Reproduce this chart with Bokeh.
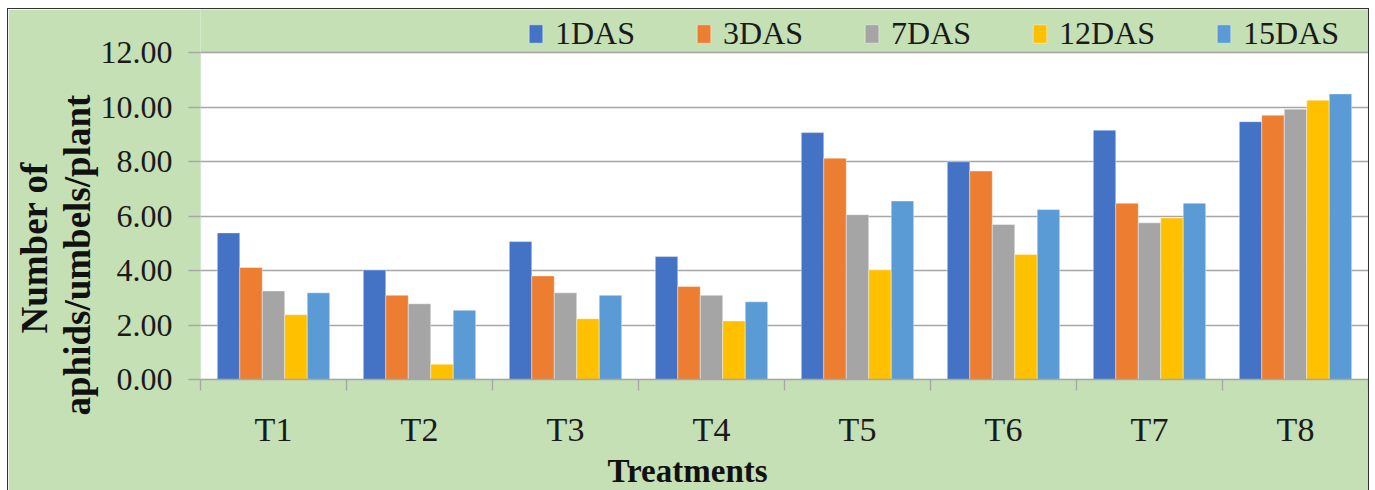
from bokeh.plotting import figure
from bokeh.models import (ColumnDataSource, Range1d, FixedTicker, NumeralTickFormatter,
                          Legend, LegendItem, Title, BoxAnnotation)
from bokeh.transform import dodge
from bokeh.embed import file_html
from bokeh.resources import INLINE

# ---------------- data ----------------
treatments = ["T1", "T2", "T3", "T4", "T5", "T6", "T7", "T8"]
series_names = ["1DAS", "3DAS", "7DAS", "12DAS", "15DAS"]
das1 = [5.38, 4.02, 5.06, 4.51, 9.06, 7.99, 9.15, 9.46]
das3 = [4.11, 3.09, 3.80, 3.41, 8.12, 7.65, 6.47, 9.70]
das7 = [3.25, 2.78, 3.18, 3.09, 6.05, 5.69, 5.75, 9.92]
das12 = [2.38, 0.56, 2.23, 2.15, 4.02, 4.59, 5.93, 10.25]
das15 = [3.18, 2.54, 3.09, 2.85, 6.55, 6.24, 6.47, 10.48]
y_ticks = [0, 2, 4, 6, 8, 10, 12]
y_label_lines = ["Number of", "aphids/umbels/plant"]
x_label = "Treatments"

colors = ["#4472C4", "#ED7D31", "#A5A5A5", "#FFC000", "#5B9BD5"]
GREEN = "#C5E0B4"
GRID = "#A6A6A6"
FONT = "Liberation Serif"

y_max = y_ticks[-1]
y_top = y_max + 43 / 27.25   # extra headroom in the frame that holds the legend band

xi = list(range(1, len(treatments) + 1))
src = ColumnDataSource(dict(x=xi, treat=treatments,
                            d1=das1, d3=das3, d7=das7, d12=das12, d15=das15))
cols = ["d1", "d3", "d7", "d12", "d15"]

p = figure(width=1360, height=481, margin=(9, 7, 0, 8),
           min_border_left=192, min_border_right=0, min_border_top=0, min_border_bottom=111,
           x_range=Range1d(0.5, len(treatments) + 0.5), y_range=Range1d(0, y_top),
           output_backend="svg", toolbar_location=None,
           background_fill_color=GREEN, border_fill_color=GREEN,
           styles={"outline": "1.5px solid #333"})
p.outline_line_color = None

# white plot area (below grid lines) and its gray border
p.add_layout(BoxAnnotation(bottom=0, top=y_max, fill_color="white", fill_alpha=1.0,
                           line_alpha=0, level="image"))
p.add_layout(BoxAnnotation(bottom=0, top=y_max, fill_alpha=0, line_color=GRID, line_width=1.3))

bw = 0.154
renderers = []
for k, (c, col) in enumerate(zip(cols, colors)):
    off = (k - 2) * bw
    r = p.vbar(x=dodge("x", off, range=p.x_range), top=c, width=bw, source=src,
               fill_color=col, line_color="white", line_alpha=0.5, line_width=0.8)
    renderers.append(r)

# y axis
p.yaxis.ticker = FixedTicker(ticks=y_ticks)
p.yaxis.bounds = (0, y_max)
p.yaxis.formatter = NumeralTickFormatter(format="0.00")
p.yaxis.axis_line_color = None
p.yaxis.major_tick_line_color = GRID
p.yaxis.major_tick_line_width = 1.3
p.yaxis.major_tick_out = 12
p.yaxis.major_tick_in = 0
p.yaxis.minor_tick_line_color = None
p.yaxis.major_label_standoff = 16
p.yaxis.major_label_text_font = FONT
p.yaxis.major_label_text_font_size = "32px"
p.yaxis.major_label_text_color = "#1a1a1a"

# x axis: labels at centers, ticks at category boundaries
p.xaxis.ticker = FixedTicker(ticks=xi, minor_ticks=[v - 0.5 for v in xi] + [xi[-1] + 0.5])
p.xaxis.major_label_overrides = {v: t for v, t in zip(xi, treatments)}
p.xaxis.major_tick_line_color = None
p.xaxis.major_tick_out = 0
p.xaxis.major_tick_in = 0
p.xaxis.minor_tick_line_color = GRID
p.xaxis.minor_tick_line_width = 1.3
p.xaxis.minor_tick_out = 11
p.xaxis.minor_tick_in = 0
p.xaxis.axis_line_color = GRID
p.xaxis.axis_line_width = 1.3
p.xaxis.major_label_standoff = 20
p.xaxis.major_label_text_font = FONT
p.xaxis.major_label_text_font_size = "34px"
p.xaxis.major_label_text_color = "#1a1a1a"

p.xgrid.grid_line_color = None
p.ygrid.ticker = FixedTicker(ticks=y_ticks)
p.ygrid.grid_line_color = GRID
p.ygrid.grid_line_width = 1.3

# axis titles as side-panel titles
p.add_layout(Title(text=x_label, align="left", offset=407, standoff=0,
                   text_font=FONT, text_font_size="33px", text_font_style="bold",
                   text_color="#111"), "below")
p.add_layout(Title(text=y_label_lines[1], align="left", offset=-36, standoff=0,
                   text_font=FONT, text_font_size="37px", text_font_style="bold",
                   text_color="#111"), "left")
p.add_layout(Title(text=y_label_lines[0], align="left", offset=46, standoff=0,
                   text_font=FONT, text_font_size="37px", text_font_style="bold",
                   text_color="#111"), "left")

legend = Legend(items=[LegendItem(label=n, renderers=[r]) for n, r in zip(series_names, renderers)],
                orientation="horizontal", location=(327, 327),
                glyph_width=17, glyph_height=23, label_standoff=11, spacing=60,
                padding=0, margin=0, border_line_color=None, background_fill_alpha=0,
                label_text_font=FONT, label_text_font_size="32px", label_text_color="#1a1a1a")
p.add_layout(legend)

open("out.html", "w").write(file_html(p, INLINE))
